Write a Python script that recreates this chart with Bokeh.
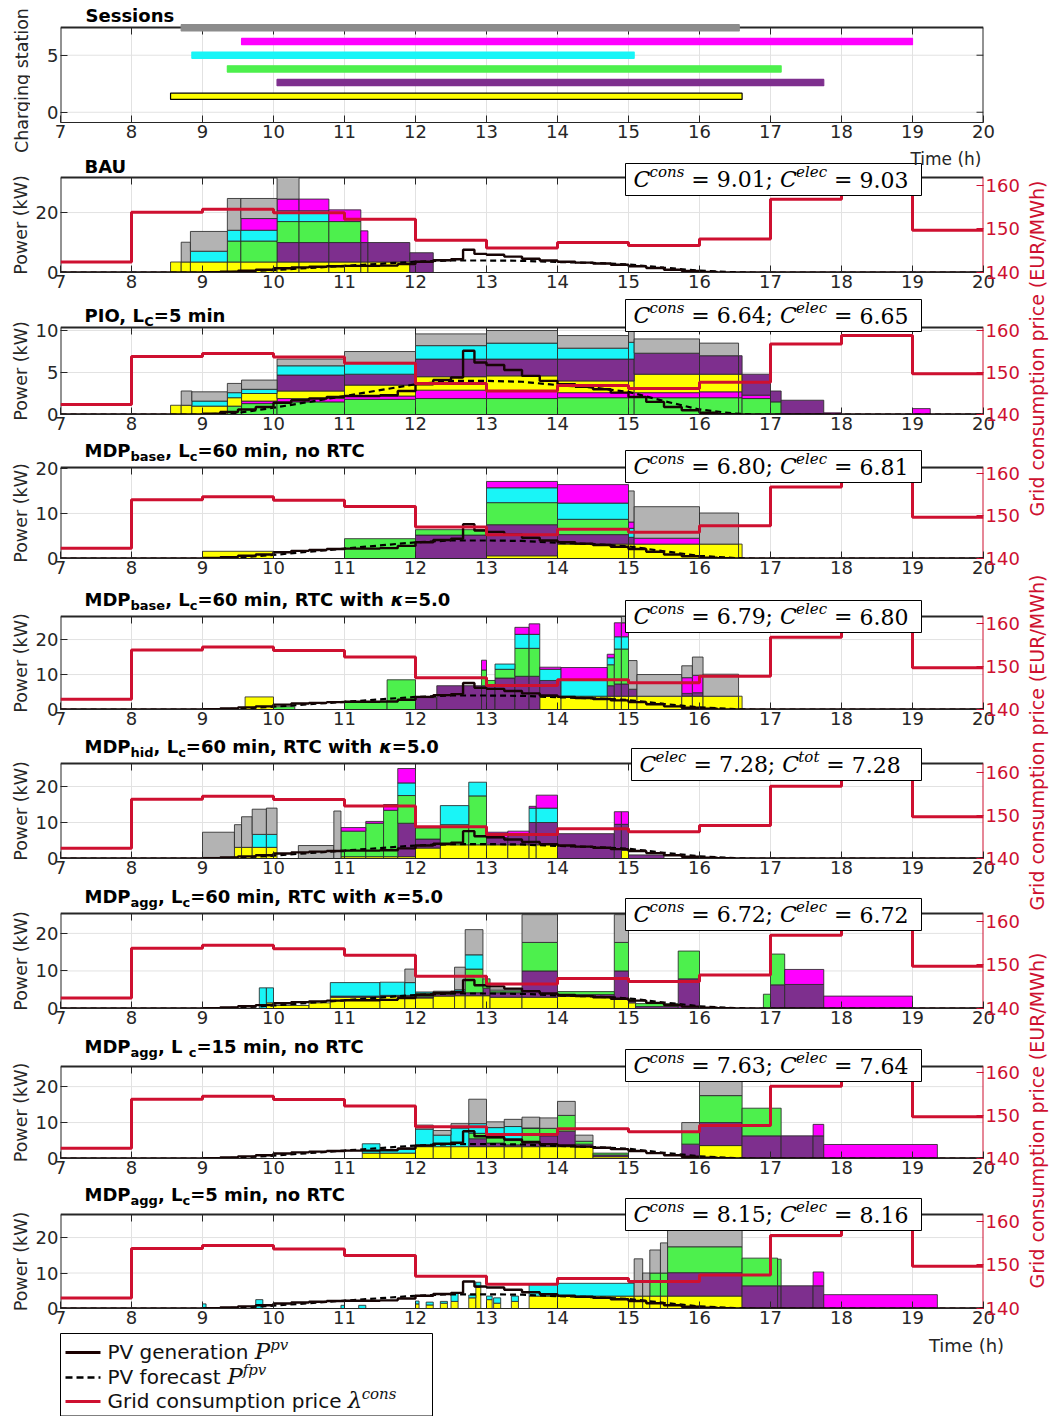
import numpy as np
from bokeh.plotting import figure
from bokeh.layouts import column, row
from bokeh.models import Range1d, LinearAxis, Label, BoxAnnotation, ColumnDataSource
from bokeh.embed import file_html
from bokeh.resources import INLINE

# ---------------------------------------------------------------- data
hour_ticks = list(range(7, 21))

# charging sessions: yellow, purple, green, cyan, magenta, gray
session_start = [8.55, 10.05, 9.35, 8.85, 9.55, 8.70]
session_end = [16.60, 17.75, 17.15, 15.08, 19.00, 16.56]
session_station = [1.4, 2.6, 3.8, 5.0, 6.2, 7.4]

# hourly grid consumption price (EUR/MWh), valid from the given hour
price_hour = [7, 8, 9, 10, 11, 12, 13, 14, 15, 16, 17, 18, 19]
price_value = [142.4, 153.8, 154.5, 153.7, 152.2, 147.4, 145.6, 146.9, 146.2, 147.7, 156.8, 158.8, 149.7]

# PV generation (kW), held constant from each time stamp
pv_time = [7.0, 9.0, 9.25, 9.5, 9.75, 10.0, 10.25, 10.5, 10.75, 11.0, 11.25, 11.5, 11.75,
           12.0, 12.25, 12.5, 12.67, 12.83, 13.0, 13.25, 13.5, 13.75, 14.0, 14.25, 14.5,
           14.75, 15.0, 15.25, 15.5, 15.75, 16.0, 16.25, 16.5, 20.0]
pv_gen = [0.0, 0.1, 0.3, 0.6, 0.9, 1.4, 1.7, 1.9, 2.1, 2.2, 2.2, 2.3, 2.8,
          3.6, 4.1, 4.4, 7.6, 6.2, 5.9, 5.3, 4.6, 4.0, 3.6, 3.3, 3.0,
          2.6, 2.1, 1.5, 0.9, 0.5, 0.2, 0.05, 0.0, 0.0]

# PV forecast (kW)
pv_fc_time = [7.0, 9.0, 9.5, 10.0, 10.5, 11.0, 11.5, 12.0, 12.5, 13.0, 13.5, 14.0, 14.5,
              15.0, 15.5, 16.0, 16.5, 16.75, 20.0]
pv_fc = [0.0, 0.0, 0.2, 0.8, 1.5, 2.2, 2.9, 3.6, 4.0, 4.0, 3.9, 3.5, 3.2,
         2.7, 1.6, 0.6, 0.1, 0.0, 0.0]

# charging power per interval: (start, end, yellow, purple, green, cyan, magenta, gray) in kW
bau_rows = [
    (8.55, 8.70, 3.5, 0, 0, 0, 0, 0),
    (8.70, 8.83, 3.5, 0, 0, 0, 0, 6.6),
    (8.83, 9.35, 3.5, 0, 0, 3.6, 0, 6.6),
    (9.35, 9.54, 3.5, 0, 7.0, 3.6, 0, 10.6),
    (9.54, 10.05, 3.5, 0, 7.0, 3.6, 3.9, 6.7),
    (10.05, 10.36, 3.5, 6.5, 7.0, 3.6, 3.9, 9.0),
    (10.36, 10.78, 3.5, 6.5, 7.0, 3.6, 3.9, 0),
    (10.78, 11.23, 3.5, 6.5, 7.0, 0, 3.9, 0),
    (11.23, 11.33, 3.5, 6.5, 0, 0, 3.9, 0),
    (11.33, 11.92, 3.5, 6.5, 0, 0, 0, 0),
    (11.92, 12.25, 0, 6.6, 0, 0, 0, 0),
]

pio_rows = [
    (8.55, 8.70, 1.1, 0, 0, 0, 0, 0),
    (8.70, 8.85, 1.1, 0, 0, 0, 0, 1.7),
    (8.85, 9.35, 1.0, 0, 0, 0.6, 0, 1.1),
    (9.35, 9.55, 1.0, 0, 1.0, 0.6, 0, 1.1),
    (9.55, 10.05, 0.9, 0, 1.3, 0.5, 0.3, 1.1),
    (10.05, 11.0, 0.9, 1.9, 1.5, 1.1, 0.4, 0.8),
    (11.0, 12.0, 1.3, 1.3, 1.8, 1.4, 0.4, 1.3),
    (12.0, 13.0, 1.6, 2.1, 1.9, 1.6, 1.0, 1.4),
    (13.0, 14.0, 1.8, 2.0, 1.9, 1.9, 0.9, 1.5),
    (14.0, 15.0, 1.4, 2.6, 2.0, 1.3, 0.6, 1.5),
    (15.0, 15.08, 1.4, 2.6, 2.0, 2.0, 0.6, 1.5),
    (15.08, 16.0, 2.2, 2.5, 2.0, 0, 0.6, 1.7),
    (16.0, 16.55, 2.1, 2.2, 2.0, 0, 0.7, 1.5),
    (16.55, 16.6, 2.1, 2.2, 2.0, 0, 0.7, 0),
    (16.6, 17.0, 0, 2.5, 1.9, 0, 0.4, 0),
    (17.0, 17.15, 0, 1.3, 1.5, 0, 0, 0),
    (17.15, 17.75, 0, 1.6, 0, 0, 0.1, 0),
    (17.75, 18.0, 0, 0, 0, 0, 0.2, 0),
    (19.0, 19.25, 0, 0, 0, 0, 0.7, 0),
]

mdp_base_rows = [
    (9.0, 10.0, 1.6, 0, 0, 0, 0, 0),
    (11.0, 12.0, 0, 0, 4.4, 0, 0, 0),
    (12.0, 13.0, 0, 5.2, 1.2, 0, 0, 0),
    (13.0, 14.0, 0.6, 6.9, 4.9, 3.3, 1.4, 0),
    (14.0, 15.0, 3.2, 2.1, 3.4, 3.6, 4.1, 0),
    (15.0, 15.08, 3.2, 1.5, 0, 2.0, 1.4, 6.9),
    (15.08, 16.0, 3.2, 0, 0, 0, 1.3, 7.0),
    (16.0, 16.55, 3.2, 0, 0, 0, 0, 6.9),
    (16.55, 16.6, 3.2, 0, 0, 0, 0, 0),
]

mdp_base_rtc_rows = [
    (9.6, 10.0, 3.6, 0, 0, 0, 0, 0),
    (10.0, 10.3, 0, 0, 0.8, 0, 0, 0),
    (11.0, 11.6, 0, 0, 2.2, 0, 0, 0),
    (11.6, 12.0, 0, 0, 8.5, 0, 0, 0),
    (12.0, 12.3, 0, 3.4, 0, 0, 0, 0),
    (12.3, 12.93, 0, 6.8, 0, 0, 0, 0),
    (12.93, 13.0, 0, 6.8, 4.5, 0, 2.8, 0),
    (13.0, 13.12, 0, 6.8, 1.5, 0, 0, 0),
    (13.12, 13.4, 0, 9.0, 2.5, 1.5, 0, 0),
    (13.4, 13.6, 0, 9.5, 8.0, 4.0, 2.0, 0),
    (13.6, 13.75, 0, 9.5, 8.0, 4.0, 3.0, 0),
    (13.75, 14.05, 3.8, 4.5, 0, 3.2, 0.6, 0),
    (14.05, 14.7, 3.8, 0, 0, 4.6, 3.6, 0),
    (14.7, 14.8, 3.8, 3.0, 6.0, 2.0, 1.0, 0),
    (14.8, 14.9, 3.8, 3.5, 10.0, 3.5, 4.0, 0),
    (14.9, 15.0, 3.8, 3.5, 10.0, 3.5, 4.0, 3.0),
    (15.0, 15.12, 3.8, 2.0, 0, 0, 0, 8.2),
    (15.12, 15.75, 3.8, 0, 0, 0, 0, 6.2),
    (15.75, 15.9, 3.8, 0.8, 0, 0, 4.5, 3.4),
    (15.9, 16.05, 3.8, 1.0, 0, 0, 5.0, 5.2),
    (16.05, 16.55, 3.8, 0, 0, 0, 0, 6.3),
    (16.55, 16.6, 3.8, 0, 0, 0, 0, 0),
]

mdp_hid_rows = [
    (9.0, 9.45, 0, 0, 0, 0.3, 0, 7.0),
    (9.45, 9.55, 3.1, 0, 0, 0, 0, 6.3),
    (9.55, 9.7, 3.1, 0, 0, 0, 0, 8.5),
    (9.7, 9.9, 3.1, 0, 0, 3.6, 0, 7.0),
    (9.9, 10.05, 3.1, 0, 0, 3.6, 0, 7.3),
    (10.35, 10.85, 0, 0, 0, 0, 0, 3.6),
    (10.85, 10.95, 0, 0, 0, 0, 0, 13.2),
    (10.95, 11.3, 0.5, 0, 7.1, 0, 1.0, 0),
    (11.3, 11.55, 0.5, 0, 9.3, 0, 0.5, 0),
    (11.55, 11.75, 0.5, 0, 12.9, 0, 1.6, 0),
    (11.75, 12.0, 0.5, 9.3, 7.7, 3.5, 4.0, 0),
    (12.0, 12.35, 2.9, 2.5, 3.1, 0, 0, 0),
    (12.35, 12.75, 3.8, 0, 5.6, 5.3, 0, 0),
    (12.75, 13.0, 3.8, 0, 13.6, 3.8, 0, 0),
    (13.0, 13.3, 3.8, 2.0, 0, 0, 1.5, 0),
    (13.3, 13.6, 3.8, 2.9, 0, 0, 0.9, 0),
    (13.6, 13.7, 3.8, 6.2, 0, 4.0, 0.5, 0),
    (13.7, 14.0, 3.8, 6.2, 0, 4.0, 3.6, 0),
    (14.0, 14.8, 0, 6.9, 0, 0, 0, 0),
    (14.8, 14.9, 0, 9.5, 0, 0, 3.5, 0),
    (14.9, 15.0, 2.3, 7.2, 0, 0, 3.5, 0),
    (15.0, 15.5, 0, 1.0, 0, 0, 0, 0),
]

mdp_agg60_rows = [
    (9.8, 9.9, 0, 0, 0, 5.5, 0, 0),
    (9.9, 10.0, 1.5, 0, 0, 4.0, 0, 0),
    (10.0, 10.5, 0.8, 0, 0, 0, 0, 0),
    (10.5, 10.8, 1.5, 0, 0, 0, 0, 0),
    (10.8, 11.5, 3.0, 0.3, 0, 3.6, 0, 0),
    (11.5, 11.85, 3.2, 0.3, 0, 3.5, 0, 0),
    (11.85, 12.0, 3.2, 0.3, 0, 3.4, 0, 3.6),
    (12.0, 12.25, 2.8, 0.3, 1.0, 0.3, 0, 0),
    (12.25, 12.55, 3.3, 0.5, 0.3, 0.3, 0, 0.2),
    (12.55, 12.7, 3.4, 0.8, 0.3, 0.5, 0, 6.0),
    (12.7, 12.95, 3.4, 0.8, 6.3, 3.8, 0, 6.7),
    (12.95, 13.05, 3.4, 2.0, 2.5, 0, 0, 0),
    (13.05, 13.5, 3.0, 1.2, 0.5, 0, 0, 0.5),
    (13.5, 14.0, 3.0, 7.0, 7.6, 0, 0, 7.4),
    (14.0, 14.8, 3.2, 0.5, 0.8, 0, 0, 0),
    (14.8, 15.0, 2.5, 7.5, 7.6, 0, 0, 7.4),
    (15.0, 15.1, 1.5, 0.5, 0.5, 0, 0, 0),
    (15.1, 15.7, 0, 0.5, 0.8, 0, 0, 0),
    (15.7, 16.0, 0, 7.9, 7.4, 0, 0, 0),
    (16.9, 17.0, 0, 0, 3.8, 0, 0, 0),
    (17.0, 17.2, 0, 6.3, 8.2, 0, 0, 0),
    (17.2, 17.75, 0, 6.4, 0, 0, 4.0, 0),
    (17.75, 19.0, 0, 0, 0, 0, 3.3, 0),
]

mdp_agg15_rows = [
    (11.25, 11.5, 1.5, 0, 0, 2.6, 0, 0),
    (11.5, 12.0, 1.5, 0, 0, 1.0, 0, 0),
    (12.0, 12.25, 3.3, 0, 0, 4.9, 0, 1.1),
    (12.25, 12.5, 3.3, 0, 0, 3.2, 0, 1.3),
    (12.5, 12.75, 3.3, 0, 0, 5.2, 0, 1.2),
    (12.75, 13.0, 3.3, 2.2, 1.5, 2.7, 0, 6.8),
    (13.0, 13.25, 3.3, 1.0, 1.5, 2.8, 0, 1.6),
    (13.25, 13.5, 3.3, 0.5, 1.2, 3.9, 0, 2.0),
    (13.5, 13.75, 3.3, 1.0, 4.1, 0.1, 0, 3.0),
    (13.75, 14.0, 3.3, 3.0, 2.1, 0, 0, 2.9),
    (14.0, 14.25, 3.3, 4.3, 4.4, 0, 0, 3.9),
    (14.25, 14.5, 3.3, 0.7, 0.8, 0, 0, 1.7),
    (14.5, 15.0, 0.5, 0.5, 0.5, 0, 0, 0),
    (15.75, 16.0, 0, 4.0, 3.3, 0, 0, 2.7),
    (16.0, 16.6, 3.6, 6.4, 7.5, 0, 0, 4.5),
    (16.6, 17.15, 0, 6.3, 7.7, 0, 0, 0),
    (17.15, 17.6, 0, 6.3, 0, 0, 0, 0),
    (17.6, 17.75, 0, 6.3, 0, 0, 3.2, 0),
    (17.75, 19.35, 0, 0, 0, 0, 3.9, 0),
]

mdp_agg5_rows = [
    (9.0, 9.05, 0, 0, 0, 1.3, 0, 0),
    (9.75, 9.85, 0, 0, 0, 2.5, 0, 0),
    (10.95, 11.0, 0, 0, 0, 0.9, 0, 0),
    (11.2, 11.3, 0, 0, 0, 0.9, 0, 0),
    (12.0, 12.05, 1.3, 0, 0, 0.8, 0, 0),
    (12.15, 12.25, 1.0, 0, 0, 0.8, 0, 0),
    (12.35, 12.45, 1.5, 0, 0, 0.5, 0, 0),
    (12.5, 12.6, 2.0, 0, 0, 2.4, 0, 0),
    (12.75, 12.85, 3.0, 0, 0, 0.8, 0, 0),
    (12.85, 12.92, 6.0, 0, 0, 1.4, 0, 0),
    (13.0, 13.08, 2.5, 0, 0, 1.0, 0, 0),
    (13.1, 13.2, 1.5, 0, 0, 1.5, 0, 0),
    (13.35, 13.45, 2.0, 0, 0, 1.5, 0, 0),
    (13.6, 14.0, 3.5, 0, 0, 3.5, 0, 0),
    (14.0, 15.08, 3.5, 0, 0, 3.6, 0, 0),
    (15.08, 15.2, 3.5, 0, 0, 0, 0, 10.5),
    (15.2, 15.3, 3.5, 0, 0, 0, 0, 6.5),
    (15.3, 15.45, 3.5, 0, 6.5, 0, 0, 6.5),
    (15.45, 15.55, 3.5, 0, 6.5, 0, 0, 8.5),
    (15.55, 16.6, 3.5, 6.6, 7.3, 0, 0, 4.6),
    (16.6, 17.1, 0, 6.4, 7.8, 0, 0, 0),
    (17.1, 17.15, 0, 6.4, 7.5, 0, 0, 0),
    (17.15, 17.6, 0, 6.4, 0, 0, 0, 0),
    (17.6, 17.75, 0, 6.4, 0, 0, 3.9, 0),
    (17.75, 19.35, 0, 0, 0, 0, 3.9, 0),
]

# cost indicators shown in each panel
cost_names = [("cons", "elec"), ("cons", "elec"), ("cons", "elec"), ("cons", "elec"),
              ("elec", "tot"), ("cons", "elec"), ("cons", "elec"), ("cons", "elec")]
cost_first = ["9.01", "6.64", "6.80", "6.79", "7.28", "6.72", "7.63", "8.15"]
cost_second = ["9.03", "6.65", "6.81", "6.80", "7.28", "6.72", "7.64", "8.16"]

# ---------------------------------------------------------------- style
FONT = "DejaVu Sans"
SERIF = "DejaVu Serif"
INK = "#262626"
GRID = "#E2E2E2"
RED = "#CE1030"
FILL = ["#FFFF00", "#7E2F8E", "#4DF04D", "#19F5F7", "#FF00FF", "#B3B3B3"]
BAR = ["#FFFF00", "#7E2F8E", "#4DF04D", "#19F5F7", "#FF00FF", "#8C8C8C"]
BAR_EDGE = ["#000000", "#7E2F8E", "#4DF04D", "#19F5F7", "#FF00FF", "#8C8C8C"]

PAGE_W = 1049
LEFT_W, RIGHT_W = 30, 23          # side strips holding the rotated axis titles
COL_W = PAGE_W - LEFT_W - RIGHT_W
FL, FR = 60, 983                  # page x of the plotting boxes
TICK = 7                          # inward tick length (px)

SANS = {' ': .318, '(': .390, ')': .390, '/': .337, ',': .318, '.': .318, '=': .838,
        'A': .684, 'C': .698, 'E': .632, 'G': .775, 'M': .863, 'P': .603, 'R': .695,
        'T': .611, 'U': .732, 'V': .684, 'W': .989, 'a': .613, 'c': .550, 'd': .635,
        'e': .615, 'f': .352, 'g': .635, 'h': .634, 'i': .278, 'k': .579, 'm': .974,
        'n': .634, 'o': .612, 'p': .635, 'r': .411, 's': .521, 't': .392, 'u': .634,
        'v': .592, 'w': .818}
SANS_B = {' ': .348, ',': .380, '.': .380, '=': .838, 'A': .774, 'B': .762, 'C': .734,
          'D': .830, 'I': .372, 'L': .637, 'M': .995, 'O': .850, 'P': .733, 'R': .770,
          'S': .720, 'T': .682, 'U': .812, 'a': .675, 'b': .716, 'c': .593, 'd': .716,
          'e': .678, 'g': .716, 'h': .712, 'i': .343, 'l': .343, 'm': 1.042, 'n': .712,
          'o': .687, 's': .595, 't': .478, 'w': .924, 'κ': .70}
SERIF_R = {' ': .318, '.': .318, ';': .337, '=': .838}
SERIF_I = {'C': .73, 'P': .67, 'λ': .60, 'c': .56, 'o': .60, 'n': .64, 's': .51,
           'e': .59, 'l': .32, 't': .40, 'p': .64, 'v': .59, 'f': .37}
for d in "0123456789":
    SANS[d] = .636
    SANS_B[d] = .696
    SERIF_R[d] = .636


def text_w(s, size, table):
    return sum(table.get(ch, 0.6) for ch in s) * size


# ---------------------------------------------------------------- helpers
class Area:
    """A figure together with the page position of its frame and its ranges."""

    def __init__(self, fig, fl, fr, ft, fb, xr, yr):
        self.fig, self.fl, self.fr, self.ft, self.fb = fig, fl, fr, ft, fb
        self.xr, self.yr = xr, yr

    def to_data(self, px, py):
        x0, x1 = self.xr
        y0, y1 = self.yr
        x = x0 + (px - self.fl) * (x1 - x0) / (self.fr - self.fl)
        y = y0 + (self.fb - py) * (y1 - y0) / (self.fb - self.ft)
        return x, y

    def label(self, px, py, text, size, font=FONT, style="normal", color=INK,
              align="left", baseline="alphabetic", angle=0.0):
        if baseline == "alphabetic":
            # place by the visual middle of the capitals above the baseline
            py = py - 0.36 * size
            baseline = "middle"
        x, y = self.to_data(px, py)
        self.fig.add_layout(Label(x=x, y=y, text=text, text_font=font,
                                  text_font_size=f"{size}px", text_font_style=style,
                                  text_color=color, text_align=align,
                                  text_baseline=baseline, angle=angle))

    def parts(self, px, py, parts, color="#000000"):
        x = px
        for txt, font, style, size, dy, table in parts:
            body = txt.strip()
            lead = txt[:len(txt) - len(txt.lstrip())]
            if body:
                self.label(x + text_w(lead, size, table), py + dy, body, size, font, style, color)
            x += text_w(txt, size, table)


def plain_figure(width, height, xr, yr):
    p = figure(width=width, height=height, x_range=Range1d(*xr), y_range=Range1d(*yr),
               output_backend="svg", toolbar_location=None, title_location=None,
               x_axis_location=None, y_axis_location=None,
               min_border_left=0, min_border_right=0, min_border_top=0, min_border_bottom=0)
    p.grid.visible = False
    p.outline_line_color = None
    p.background_fill_color = "white"
    p.border_fill_color = "white"
    return p


def style_axis(ax, ticks, color=INK):
    ax.ticker = ticks
    ax.major_tick_in = TICK
    ax.major_tick_out = 0
    ax.minor_tick_line_color = None
    ax.axis_line_color = None
    ax.major_tick_line_color = color
    ax.major_label_text_color = color
    ax.major_label_text_font = FONT
    ax.major_label_text_font_size = "18px"
    ax.major_label_standoff = 2


def boxed_figure(top, bottom, box_top, fb, ylo, yhi, yticks, right_color=INK,
                 price_hi=None):
    """Figure whose frame reaches up to the panel heading; the plotting box
    (box_top .. fb) is drawn explicitly inside it."""
    ft = top
    stretch = (fb - ft) / (fb - box_top)
    yext = ylo + (yhi - ylo) * stretch
    p = figure(width=COL_W, height=bottom - top, x_range=Range1d(7, 20),
               y_range=Range1d(ylo, yext), output_backend="svg", toolbar_location=None,
               title_location=None, min_border_left=FL - LEFT_W,
               min_border_right=LEFT_W + COL_W - FR, min_border_top=0,
               min_border_bottom=bottom - fb)
    p.grid.visible = False
    p.outline_line_color = None
    p.background_fill_color = "white"
    p.border_fill_color = "white"
    style_axis(p.xaxis[0], hour_ticks)
    p.xaxis[0].axis_line_color = INK
    style_axis(p.yaxis[0], yticks)
    if price_hi is not None:
        p.extra_y_ranges = {"price": Range1d(140, 140 + (price_hi - 140) * stretch)}
        r_ax = LinearAxis(y_range_name="price")
        style_axis(r_ax, [140, 150, 160], color=RED)
        p.add_layout(r_ax, "right")

    dx = TICK * 13 / (FR - FL)
    dy = TICK * (yext - ylo) / (fb - ft)
    inner = [h for h in hour_ticks if 7 < h < 20]
    # grid
    p.segment(x0=inner, y0=[ylo] * len(inner), x1=inner, y1=[yhi] * len(inner),
              line_color=GRID, line_width=1)
    hy = [v for v in yticks if ylo < v < yhi]
    p.segment(x0=[7] * len(hy), y0=hy, x1=[20] * len(hy), y1=hy, line_color=GRID, line_width=1)
    # box edges and mirrored ticks
    p.segment(x0=[7, 7], y0=[ylo, yhi], x1=[7, 20], y1=[yhi, yhi], line_color=INK, line_width=2)
    p.segment(x0=[20], y0=[ylo], x1=[20], y1=[yhi], line_color=right_color, line_width=2)
    p.segment(x0=inner, y0=[yhi] * len(inner), x1=inner, y1=[yhi - dy] * len(inner),
              line_color=INK, line_width=1)
    if price_hi is None:
        p.segment(x0=[20 - dx] * len(yticks), y0=yticks, x1=[20] * len(yticks), y1=yticks,
                  line_color=INK, line_width=1)
    area = Area(p, FL, FR, ft, fb, (7, 20), (ylo, yext))
    return p, area


# ---------------------------------------------------------------- sessions panel
p0, a0 = boxed_figure(0, 147, 27, 122, -0.9, 7.43, [0, 5])
p0.hbar(y=session_station, left=session_start, right=session_end, height=0.55,
        fill_color=BAR, line_color=BAR_EDGE, line_width=1.2)

# ---------------------------------------------------------------- power panels
panel_rows = [bau_rows, pio_rows, mdp_base_rows, mdp_base_rtc_rows, mdp_hid_rows,
              mdp_agg60_rows, mdp_agg15_rows, mdp_agg5_rows]
panel_order = [[0, 1, 2, 3, 4, 5], [2, 4, 0, 1, 3, 5]] + [[0, 1, 2, 3, 4, 5]] * 6
panel_ymax = [31.7, 10.36, 20.2, 26.6, 26.4, 25.3, 25.6, 26.5]
panel_pmax = [161.8, 160.7, 161.4, 161.6, 162.1, 161.8, 161.4, 161.6]
panel_yticks = [[0, 20], [0, 5, 10], [0, 10, 20], [0, 10, 20], [0, 10, 20],
                [0, 10, 20], [0, 10, 20], [0, 10, 20]]
# page rows: figure top, figure bottom, plotting box top, plotting box bottom
panel_geom = [(147, 298, 177, 272), (298, 438, 327, 414), (438, 584, 467, 558),
              (584, 733, 616, 709), (733, 882, 763, 858), (882, 1032, 913, 1008),
              (1032, 1182, 1066, 1158), (1182, 1332, 1214, 1308)]

price_x = price_hour + [20]
price_y = price_value + [price_value[-1]]

figs = [p0]
areas = []
for rows, order, ymax, pmax, yt, (top, bot, bt, fb) in zip(
        panel_rows, panel_order, panel_ymax, panel_pmax, panel_yticks, panel_geom):
    p, area = boxed_figure(top, bot, bt, fb, 0, ymax, yt, right_color=RED, price_hi=pmax)

    # stacked charging power of the sessions, cut at the top of the box
    layers = {k: dict(left=[], right=[], bottom=[], top=[]) for k in range(6)}
    for r in rows:
        t0, t1, vals = r[0], r[1], r[2:]
        base = 0.0
        for k in order:
            v = vals[k]
            if v > 0 and base < ymax:
                layers[k]["left"].append(t0)
                layers[k]["right"].append(t1)
                layers[k]["bottom"].append(base)
                layers[k]["top"].append(min(base + v, ymax))
            base += v
    for k in order:
        p.quad(left="left", right="right", bottom="bottom", top="top",
               source=ColumnDataSource(layers[k]), fill_color=FILL[k],
               line_color="#2a2a2a", line_width=1, line_alpha=0.85)

    p.line(pv_fc_time, pv_fc, line_color="#000000", line_width=2.2, line_dash="6 4")
    p.step(pv_time, pv_gen, mode="after", line_color="#160404", line_width=2.4)
    p.step(price_x, price_y, mode="after", y_range_name="price",
           line_color=RED, line_width=3)
    figs.append(p)
    areas.append(area)

# ---------------------------------------------------------------- side strips
left_strip = plain_figure(LEFT_W, 1332, (0, LEFT_W), (1332, 0))
a_left = Area(left_strip, 0, LEFT_W, 0, 1332, (0, LEFT_W), (1332, 0))
right_strip = plain_figure(RIGHT_W, 1332, (PAGE_W - RIGHT_W, PAGE_W), (1332, 0))
a_right = Area(right_strip, PAGE_W - RIGHT_W, PAGE_W, 0, 1332,
               (PAGE_W - RIGHT_W, PAGE_W), (1332, 0))

a_left.label(21, 80, "Charging station", 17.5, align="center", baseline="middle",
             angle=np.pi / 2)
for (top, bot, bt, fb) in panel_geom:
    a_left.label(20, (bt + fb) / 2, "Power (kW)", 17.5, align="center", baseline="middle",
                 angle=np.pi / 2)
for cy in [348, 742, 1120]:
    a_right.label(1036, cy, "Grid consumption price (EUR/MWh)", 19, color=RED,
                  align="center", baseline="middle", angle=np.pi / 2)

# ---------------------------------------------------------------- legend strip
leg = plain_figure(PAGE_W, 84, (0, PAGE_W), (1416, 1332))
a_leg = Area(leg, 0, PAGE_W, 1332, 1416, (0, PAGE_W), (1416, 1332))
leg.quad(left=[60], right=[432], top=[1333], bottom=[1415.5], fill_color=None,
         line_color="#000000", line_width=1)
leg.line([65, 100], [1352, 1352], line_color="#1a0000", line_width=3)
leg.line([65, 100], [1377, 1377], line_color="#000000", line_width=2.5, line_dash="7 4")
leg.line([65, 100], [1401, 1401], line_color=RED, line_width=3)


# ---------------------------------------------------------------- texts
def t_main(t):
    return (t, FONT, "bold", 18, 0, SANS_B)


def t_sub(t):
    return (t, FONT, "bold", 13, 5, SANS_B)


def t_kappa():
    return ("κ", FONT, "bold italic", 18, 0, SANS_B)


def m_it(t):
    return (t, SERIF, "italic", 22, 0, SERIF_I)


def m_sup(t):
    return (t, SERIF, "italic", 15, -10, SERIF_I)


def m_rm(t):
    return (t, SERIF, "normal", 22, 0, SERIF_R)


a0.parts(85, 21, [t_main("Sessions")])
titles = [
    [t_main("BAU")],
    [t_main("PIO, L"), t_sub("C"), t_main("=5 min")],
    [t_main("MDP"), t_sub("base"), t_main(", L"), t_sub("c"), t_main("=60 min, no RTC")],
    [t_main("MDP"), t_sub("base"), t_main(", L"), t_sub("c"), t_main("=60 min, RTC with "),
     t_kappa(), t_main("=5.0")],
    [t_main("MDP"), t_sub("hid"), t_main(", L"), t_sub("c"), t_main("=60 min, RTC with "),
     t_kappa(), t_main("=5.0")],
    [t_main("MDP"), t_sub("agg"), t_main(", L"), t_sub("c"), t_main("=60 min, RTC with "),
     t_kappa(), t_main("=5.0")],
    [t_main("MDP"), t_sub("agg"), t_main(", L "), t_sub("c"), t_main("=15 min, no RTC")],
    [t_main("MDP"), t_sub("agg"), t_main(", L"), t_sub("c"), t_main("=5 min, no RTC")],
]
title_base = [172, 321, 456, 605, 752, 902, 1052, 1200]
box_top = [163, 299, 450, 600, 748, 898, 1049, 1198]
for area, parts, yb, bt, (a, b), v1, v2 in zip(areas, titles, title_base, box_top,
                                               cost_names, cost_first, cost_second):
    area.parts(84, yb, parts)
    left = 631 if a == "elec" else 625
    x_l, y_t = area.to_data(left, bt)
    x_r, y_b = area.to_data(921, bt + 32)
    area.fig.add_layout(BoxAnnotation(left=x_l, right=x_r, top=y_t, bottom=y_b,
                                      fill_color="white", fill_alpha=1.0,
                                      line_color="#000000", line_width=1, line_alpha=1.0))
    area.parts(left + 8, bt + 24, [m_it("C"), m_sup(a), m_rm(" = "), m_rm(v1 + ";"),
                                   m_rm(" "), m_it("C"), m_sup(b), m_rm(" = "), m_rm(v2)])

areas[0].label(981, 158, "Time (h)", 17, align="right", baseline="middle")
a_leg.label(966, 1345, "Time (h)", 18, align="center", baseline="middle")

leg_rows = [
    (1352, [("PV generation ", FONT, "normal", 20, 0, SANS), ("P", SERIF, "italic", 23, 0, SERIF_I),
            ("pv", SERIF, "italic", 15, -9, SERIF_I)]),
    (1377, [("PV forecast ", FONT, "normal", 20, 0, SANS), ("P", SERIF, "italic", 23, 0, SERIF_I),
            ("fpv", SERIF, "italic", 15, -9, SERIF_I)]),
    (1401, [("Grid consumption price ", FONT, "normal", 20, 0, SANS),
            ("λ", SERIF, "italic", 23, 0, SERIF_I), ("cons", SERIF, "italic", 15, -9, SERIF_I)]),
]
for yc, parts in leg_rows:
    a_leg.parts(107, yc + 7, parts, color="#111111")

main = column(*figs, spacing=0)
layout = column(row(left_strip, main, right_strip, spacing=0), leg, spacing=0)
open("out.html", "w").write(file_html(layout, INLINE))
